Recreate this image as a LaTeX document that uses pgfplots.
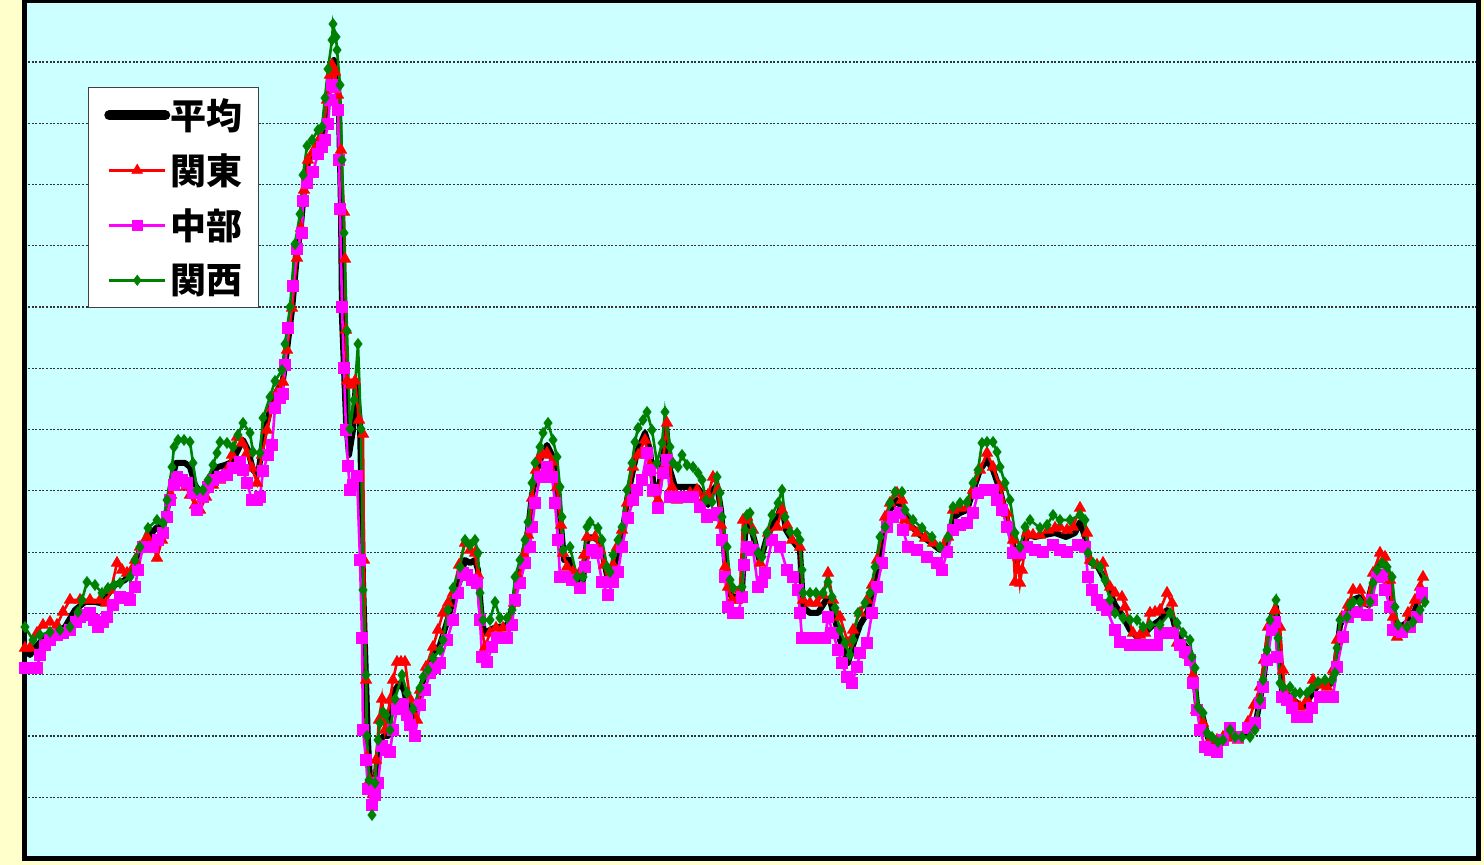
\documentclass[border=0pt]{standalone}
\usepackage{pgfplots}
\pgfplotsset{compat=1.18}
\usepackage{fontspec}
\newfontfamily\cjk{Noto Sans CJK JP}
\definecolor{plotbg}{RGB}{204,255,255}
\definecolor{pagebg}{RGB}{255,255,204}
\definecolor{kansai}{RGB}{0,128,0}
\definecolor{chubu}{RGB}{255,0,255}
\definecolor{kanto}{RGB}{255,0,0}
\begin{document}
\begin{tikzpicture}[x=0.5pt,y=0.5pt]
\fill[pagebg] (0,0) rectangle (1484,865);
\begin{axis}[
    at={(12.25pt,3.25pt)}, anchor=south west,
    scale only axis, width=727pt, height=429pt,
    xmin=24.5, xmax=1478.5,
    ymin=-0.5, ymax=857.5,
    xtick=\empty,
    ytick={60.7,122,183.2,244.5,305.8,367.1,428.4,489.6,550.9,612.2,673.5,734.7,796},
    yticklabels={}, major tick length=0pt,
    ymajorgrids,
    major grid style={draw=black!80, line width=0.6pt, dash pattern=on 1pt off 0.8pt},
    axis line style={line width=2.5pt, black},
    axis background/.style={fill=plotbg},
    legend cell align=left,
    legend image code/.code={%
      \draw[mark repeat=2,mark phase=2,#1] plot coordinates {(0pt,0pt) (14pt,0pt) (28pt,0pt)};},
    legend style={at={(0.0435,0.8988)}, anchor=north west,
      draw=black!75, line width=0.5pt, fill=white,
      inner xsep=8pt, inner ysep=0pt, row sep=0pt,
      font=\cjk\bfseries\fontsize{18}{18}\selectfont,
      nodes={inner sep=0pt, minimum height=27.5pt},
      /tikz/every odd column/.append style={column sep=0pt}},
  ]
% 平均
\addplot[black, line width=3pt, line join=round,
  legend image post style={line width=5pt, line cap=round}] coordinates {
(25,210)(30,203)(35,210)(45,221)(55,226)(65,231)(75,248)(85,256)(95,256)(100,255)
(105,260)(115,273)(125,278)(132,288)(140,308)(150,323)(157,331)(163,330)(168,353)(172,378)
(176,395)(185,395)(190,391)(195,373)(200,366)(205,371)(212,385)(218,391)(225,393)(232,396)
(238,408)(243,418)(248,408)(253,388)(258,383)(263,418)(270,448)(276,465)(283,478)(287,508)
(292,548)(297,603)(301,633)(304,668)(308,696)(313,706)(318,716)(323,723)(326,748)(329,773)
(332,793)(334,798)(337,783)(339,748)(341,648)(342,540)(346,438)(349,403)(353,428)(356,477)
(360,435)(363,276)(366,178)(368,117)(370,78)(372,58)(375,68)(377,96)(380,118)(384,122)
(388,122)(393,165)(400,175)(404,168)(407,154)(412,146)(416,140)(420,168)(426,186)(433,203)
(440,213)(447,236)(453,258)(460,278)(465,298)(470,295)(475,298)(478,288)(481,248)(484,225)
(490,228)(496,231)(503,231)(508,234)(513,253)(518,281)(524,305)(528,328)(532,363)(537,388)
(542,403)(547,413)(552,403)(557,373)(561,333)(564,298)(570,298)(577,278)(583,278)(587,318)
(592,321)(598,318)(603,302)(608,278)(613,288)(618,306)(622,321)(627,358)(632,383)(637,406)
(645,425)(650,408)(654,368)(658,363)(663,398)(666,433)(670,388)(675,371)(683,371)(690,371)
(697,371)(703,363)(708,353)(713,368)(717,373)(721,348)(725,298)(730,263)(737,260)(742,268)
(745,323)(748,338)(753,323)(760,296)(767,321)(773,333)(778,343)(782,353)(786,328)(792,318)
(800,308)(803,251)(810,245)(818,245)(826,258)(830,258)(835,238)(840,218)(848,195)(853,213)
(860,233)(866,243)(870,253)(877,288)(884,328)(890,348)(897,358)(903,348)(910,333)(920,323)
(930,316)(940,308)(947,313)(953,340)(960,345)(967,348)(975,373)(980,388)(987,398)(993,388)
(1000,368)(1006,343)(1012,318)(1017,296)(1022,310)(1028,323)(1035,321)(1045,323)(1055,325)(1066,321)
(1075,325)(1080,336)(1086,318)(1090,296)(1098,291)(1105,278)(1110,266)(1115,253)(1122,243)(1130,228)
(1137,221)(1145,225)(1153,233)(1160,238)(1167,248)(1172,243)(1177,223)(1183,215)(1190,206)(1193,193)
(1197,153)(1203,140)(1208,120)(1215,113)(1223,118)(1230,125)(1238,120)(1248,125)(1255,131)(1260,158)
(1264,183)(1268,218)(1272,243)(1276,251)(1279,218)(1282,168)(1290,161)(1297,155)(1303,151)(1310,161)
(1318,173)(1327,173)(1333,175)(1336,198)(1340,233)(1347,246)(1352,258)(1360,261)(1367,253)(1372,273)
(1377,291)(1382,296)(1387,290)(1391,268)(1394,238)(1400,231)(1408,236)(1415,248)(1420,261)(1423,268)
};
\addlegendentry{平均}
% 関東
\addplot[kanto, line width=1.3pt, mark=triangle*, mark size=3.2pt,
  mark options={solid, fill=kanto, line width=0.4pt},
  legend image post style={mark size=3pt}] coordinates {
(25,210)(30,210)(37,225)(43,233)(50,236)(57,233)(63,246)(70,258)(80,258)(90,258)
(100,258)(106,255)(111,268)(117,295)(122,288)(127,285)(135,298)(140,311)(147,321)(153,313)
(157,300)(162,318)(167,341)(171,363)(174,378)(180,375)(186,371)(190,363)(195,353)(200,348)
(206,361)(213,373)(220,378)(227,388)(232,403)(237,421)(242,415)(247,405)(252,390)(257,375)
(262,403)(267,428)(272,450)(277,465)(283,476)(287,508)(292,550)(297,600)(301,630)(304,668)
(308,698)(314,708)(319,718)(324,733)(327,758)(330,783)(332,793)(335,786)(338,763)(341,708)
(344,646)(345,599)(346,528)(347,477)(351,473)(355,477)(359,438)(363,424)(364,298)(366,178)
(367,101)(370,78)(373,64)(376,98)(379,138)(382,159)(385,128)(390,158)(393,178)(397,196)
(401,196)(405,196)(410,159)(417,138)(420,168)(426,191)(433,211)(438,228)(443,245)(448,255)
(453,265)(459,293)(465,315)(470,308)(475,305)(478,283)(480,238)(485,211)(490,225)(496,230)
(503,230)(509,231)(514,255)(519,280)(524,303)(528,323)(532,360)(536,388)(538,398)(543,403)
(547,405)(552,396)(557,371)(561,333)(563,305)(567,291)(573,286)(580,286)(584,303)(587,321)
(595,321)(600,308)(604,293)(608,278)(613,293)(617,311)(622,328)(627,355)(633,391)(638,403)
(645,418)(650,393)(653,365)(658,358)(662,388)(667,435)(672,371)(677,358)(684,361)(690,365)
(697,368)(703,358)(708,363)(713,381)(718,368)(721,333)(725,291)(728,271)(732,258)(737,258)
(740,268)(743,338)(747,341)(753,328)(760,295)(768,325)(777,331)(782,348)(787,333)(792,318)
(800,311)(803,258)(810,255)(817,255)(823,263)(828,285)(833,258)(840,241)(848,215)(853,228)
(860,245)(867,258)(872,273)(877,298)(885,341)(890,355)(897,365)(902,358)(905,338)(911,331)
(917,325)(925,320)(933,315)(943,311)(948,321)(953,348)(960,350)(967,351)(973,368)(980,388)
(987,405)(993,391)(1000,371)(1007,345)(1013,318)(1015,276)(1018,301)(1020,275)(1022,288)(1027,325)
(1033,323)(1040,323)(1048,328)(1055,330)(1060,331)(1067,328)(1073,331)(1080,350)(1087,325)(1090,298)
(1097,293)(1103,295)(1110,271)(1115,265)(1122,261)(1125,251)(1133,225)(1140,223)(1145,225)(1150,245)
(1155,246)(1160,248)(1167,265)(1172,255)(1177,215)(1183,211)(1188,203)(1193,183)(1196,148)(1203,135)
(1210,118)(1217,118)(1223,121)(1230,120)(1238,118)(1248,136)(1254,153)(1260,171)(1264,198)(1268,231)
(1275,248)(1280,231)(1283,188)(1285,165)(1293,158)(1300,151)(1307,158)(1313,178)(1320,173)(1327,171)
(1333,188)(1337,218)(1342,241)(1348,253)(1353,268)(1360,268)(1367,255)(1373,285)(1380,305)(1385,301)
(1390,278)(1393,241)(1397,221)(1402,225)(1408,245)(1415,258)(1420,271)(1423,281)
};
\addlegendentry{関東}
% 中部
\addplot[chubu, line width=1.3pt, mark=square*, mark size=2.8pt,
  mark options={solid, fill=chubu, line width=0.4pt},
  legend image post style={mark size=2.5pt}] coordinates {
(25,190)(31,190)(37,190)(40,203)(45,213)(50,218)(57,223)(63,225)(70,228)(76,236)
(80,241)(86,243)(90,245)(94,238)(98,231)(103,236)(107,241)(113,253)(120,261)(125,260)
(130,258)(135,271)(138,288)(143,311)(148,311)(153,311)(158,318)(163,325)(167,341)(170,358)
(174,373)(177,381)(182,378)(187,375)(193,365)(197,348)(203,361)(208,371)(213,378)(220,381)
(227,383)(233,390)(240,396)(243,388)(247,375)(252,358)(257,358)(260,361)(263,387)(268,403)
(272,413)(275,450)(280,460)(283,464)(285,493)(288,530)(293,572)(297,609)(302,625)(303,657)
(307,675)(313,686)(318,704)(322,711)(325,718)(328,734)(330,758)(332,773)(335,771)(338,748)
(339,698)(340,649)(342,551)(344,490)(346,428)(348,392)(350,368)(353,373)(357,382)(360,298)
(362,220)(363,128)(366,98)(368,69)(372,53)(375,63)(378,75)(382,112)(386,108)(390,106)
(393,128)(397,149)(403,154)(407,143)(410,133)(415,122)(420,153)(425,168)(430,185)(435,190)
(440,195)(447,218)(453,238)(458,265)(463,285)(467,283)(472,278)(477,275)(480,238)(482,201)
(487,196)(492,211)(497,220)(502,220)(507,220)(512,233)(515,258)(520,275)(525,295)(530,311)
(532,331)(535,355)(540,381)(547,391)(552,381)(555,355)(558,318)(560,281)(565,281)(572,278)
(580,270)(585,291)(592,308)(597,305)(602,276)(608,263)(613,276)(618,286)(622,311)(628,340)
(633,358)(637,368)(642,378)(647,405)(650,388)(653,368)(658,350)(663,385)(667,398)(670,361)
(675,361)(680,361)(687,361)(693,361)(700,351)(707,341)(712,343)(717,345)(722,318)(725,281)
(728,251)(733,245)(738,245)(742,261)(744,293)(747,311)(753,308)(758,271)(762,276)(765,285)
(772,318)(780,311)(787,288)(793,281)(798,268)(800,245)(802,220)(810,220)(817,220)(825,220)
(828,241)(833,225)(838,208)(842,195)(847,181)(852,175)(857,191)(860,205)(867,215)(872,245)
(877,271)(882,295)(887,331)(893,341)(900,345)(903,328)(908,311)(917,308)(927,301)(937,295)
(942,288)(947,306)(953,328)(960,333)(967,335)(973,345)(978,365)(985,368)(993,368)(997,358)
(1002,348)(1007,331)(1013,305)(1020,305)(1027,311)(1035,308)(1043,306)(1053,313)(1060,308)(1067,306)
(1078,313)(1085,311)(1088,281)(1092,268)(1097,258)(1102,253)(1107,248)(1115,228)(1120,216)(1130,213)
(1140,213)(1150,213)(1157,213)(1160,225)(1167,225)(1173,225)(1180,213)(1185,206)(1190,198)(1193,175)
(1197,148)(1200,128)(1205,111)(1210,108)(1217,106)(1223,118)(1230,130)(1238,121)(1248,130)(1255,135)
(1260,155)(1263,171)(1267,198)(1272,228)(1275,236)(1277,201)(1282,161)(1287,158)(1292,150)(1297,141)
(1302,141)(1307,141)(1312,150)(1320,161)(1327,161)(1333,161)(1337,191)(1343,221)(1348,241)(1357,246)
(1367,243)(1372,258)(1377,281)(1382,283)(1385,268)(1390,251)(1393,228)(1402,226)(1410,231)(1417,241)
(1422,265)
};
\addlegendentry{中部}
% 関西
\addplot[kansai, line width=1.3pt, mark=diamond*, mark size=2.7pt,
  mark options={solid, fill=kansai, line width=0.4pt},
  legend image post style={mark size=2.5pt}] coordinates {
(25,231)(33,218)(40,223)(50,226)(60,228)(70,231)(78,246)(82,258)(87,276)(95,273)
(102,265)(108,270)(114,273)(120,275)(130,281)(135,298)(140,311)(148,330)(157,338)(163,335)
(167,358)(172,391)(174,411)(178,418)(184,418)(190,416)(193,395)(197,368)(203,368)(208,378)
(213,393)(217,405)(220,416)(227,415)(233,411)(238,423)(243,435)(250,425)(253,406)(260,405)
(263,440)(270,461)(275,477)(282,488)(285,514)(290,551)(295,614)(300,644)(303,683)(307,712)
(312,718)(318,728)(322,731)(325,760)(328,789)(332,818)(333,834)(336,821)(337,808)(340,773)
(342,698)(344,625)(347,527)(350,429)(354,458)(358,514)(361,429)(363,268)(366,183)(367,122)
(369,78)(372,43)(375,75)(378,118)(380,135)(383,146)(386,143)(390,128)(395,159)(402,183)
(407,165)(413,149)(420,170)(423,181)(428,188)(433,200)(440,208)(443,218)(448,248)(453,270)
(460,291)(465,318)(470,313)(475,318)(478,305)(480,265)(483,238)(490,238)(495,256)(500,240)
(507,240)(512,248)(515,281)(520,298)(525,318)(528,336)(532,375)(535,395)(540,411)(543,425)
(548,435)(553,418)(557,401)(560,371)(562,341)(563,308)(570,311)(577,281)(583,281)(587,331)
(590,336)(598,330)(602,318)(607,291)(610,286)(613,303)(618,318)(622,331)(627,368)(632,395)
(635,416)(638,430)(643,438)(647,446)(652,428)(657,395)(662,415)(665,446)(670,411)(673,395)
(678,391)(682,403)(687,393)(693,391)(698,385)(702,378)(706,358)(712,356)(717,381)(720,365)
(722,341)(727,311)(730,278)(733,270)(742,271)(745,328)(747,343)(750,345)(753,326)(758,305)
(762,301)(767,325)(772,343)(778,355)(782,368)(785,341)(790,326)(797,325)(800,318)(802,288)
(803,265)(810,265)(816,265)(823,265)(828,276)(832,261)(835,250)(840,228)(845,215)(850,203)
(853,218)(858,245)(865,255)(870,265)(875,291)(880,321)(885,331)(890,355)(895,366)(902,366)
(905,348)(913,338)(922,330)(932,321)(940,311)(948,321)(953,351)(960,355)(967,356)(973,375)
(978,388)(982,415)(987,416)(993,416)(997,406)(1000,391)(1005,375)(1010,358)(1015,325)(1020,311)
(1025,331)(1030,338)(1040,330)(1047,333)(1053,343)(1060,338)(1070,338)(1080,343)(1085,338)(1088,305)
(1093,295)(1100,291)(1105,278)(1110,258)(1115,245)(1123,240)(1130,238)(1137,238)(1143,231)(1150,233)
(1160,233)(1170,245)(1177,235)(1183,225)(1190,218)(1192,201)(1195,190)(1198,151)(1203,145)(1207,125)
(1212,121)(1218,116)(1223,118)(1230,128)(1235,121)(1242,121)(1250,121)(1255,128)(1260,158)(1263,178)
(1267,208)(1270,238)(1276,258)(1278,220)(1280,175)(1283,171)(1290,171)(1295,165)(1300,165)(1307,165)
(1312,170)(1318,176)(1325,178)(1332,178)(1335,185)(1337,210)(1340,238)(1347,241)(1350,253)(1353,256)
(1360,256)(1370,256)(1373,275)(1377,288)(1382,295)(1387,291)(1392,281)(1395,251)(1398,233)(1407,231)
(1413,236)(1420,248)(1425,256)
};
\addlegendentry{関西}
\end{axis}
\pgfresetboundingbox
\useasboundingbox (0,0) rectangle (1484,865);
\end{tikzpicture}
\end{document}
